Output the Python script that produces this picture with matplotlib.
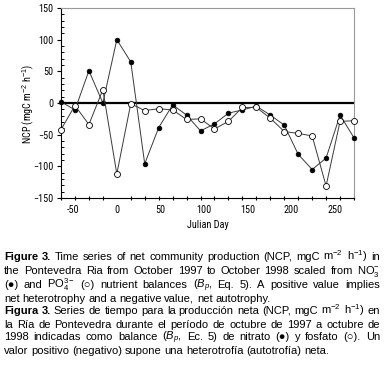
import matplotlib
matplotlib.use("Agg")
import matplotlib.pyplot as plt
from matplotlib import font_manager
from matplotlib.ticker import MultipleLocator

# ---------------- data ----------------
days = [-64, -48, -32, -16, 0, 16, 32, 48, 64, 80, 96, 112, 128, 144,
        160, 176, 192, 208, 224, 240, 256, 272]
ncp_nitrate = [2, -11, 51, 0, 100, 65, -96, -39, -3, -19, -44, -33, -16, -11,
               -5, -19, -35, -81, -105, -87, -19, -55]
ncp_phosphate = [-42, -4, -34, 21, -112, -1, -12, -9, -11, -26, -25, -41, -29, -7,
                 -7, -24, -45, -48, -52, -131, -29, -28]
xtick_values = [-50, 0, 50, 100, 150, 200, 250]
xtick_labels = ["-50", "0", "50", "100", "150", "200", "250"]

caption_lines = [
    ("Figure 3. Time series of net community production (NCP, mgC m$^{-2}$ h$^{-1}$) in", 2, True),
    ("the Pontevedra Ria from October 1997 to October 1998 scaled from NO$_3^{-}$", 0, True),
    ("(\u25cf) and PO$_4^{3-}$ (\u25cb) nutrient balances ($B_p$, Eq. 5). A positive value implies", 0, True),
    ("net heterotrophy and a negative value, net autotrophy.", 0, False),
    ("Figura 3. Series de tiempo para la producción neta (NCP, mgC m$^{-2}$ h$^{-1}$) en", 2, True),
    ("la Ría de Pontevedra durante el período de octubre de 1997 a octubre de", 0, True),
    ("1998 indicadas como balance ($B_p$, Ec. 5) de nitrato (\u25cf) y fosfato (\u25cb). Un", 0, True),
    ("valor positivo (negativo) supone una heterotrofía (autotrofía) neta.", 0, False),
]
caption_baselines = [260, 274, 288, 301.5, 314.5, 327.5, 340.5, 353.5]

# ---------------- fonts ----------------
names = {f.name for f in font_manager.fontManager.ttflist}
axfont = "Roboto Condensed" if "Roboto Condensed" in names else "Liberation Sans"
capfont = "Liberation Sans"
plt.rcParams["font.family"] = axfont
plt.rcParams["mathtext.fontset"] = "custom"
plt.rcParams["mathtext.rm"] = capfont
plt.rcParams["mathtext.it"] = capfont + ":italic"
plt.rcParams["mathtext.bf"] = capfont + ":bold"

W = H = 384
fig = plt.figure(figsize=(3.84, 3.84), dpi=100)
ax = fig.add_axes([61 / W, 1 - 198 / H, 293 / W, 190 / H])

ax.axhline(0, color="black", lw=1.6, zorder=2)
ax.plot(days, ncp_nitrate, "-", color="#3a3a3a", lw=0.7, marker="o", ms=3.4,
        mfc="black", mec="black", mew=0.5, clip_on=False, zorder=3)
ax.plot(days, ncp_phosphate, "-", color="#3a3a3a", lw=0.7, marker="o", ms=4.3,
        mfc="white", mec="black", mew=0.6, clip_on=False, zorder=4)

ax.set_xlim(-64, 272)
ax.set_ylim(-150, 150)
ax.yaxis.set_major_locator(MultipleLocator(50))
ax.yaxis.set_minor_locator(MultipleLocator(10))
ax.set_xticks(xtick_values)
ax.set_xticklabels(xtick_labels)
ax.set_xticks(days, minor=True)

ax.tick_params(axis="x", which="major", length=0, pad=5, labelsize=7.3)
ax.tick_params(axis="x", which="minor", direction="inout", length=2.4, width=0.8)
ax.tick_params(axis="y", which="major", direction="out", length=2.8, width=0.8,
               pad=2.5, labelsize=7.3)
ax.tick_params(axis="y", which="minor", direction="in", length=1.8, width=0.7)

for s in ("top", "right"):
    ax.spines[s].set_color("#9a9a9a")
    ax.spines[s].set_linewidth(0.8)
for s in ("left", "bottom"):
    ax.spines[s].set_color("black")
    ax.spines[s].set_linewidth(0.8)

fig.text(28 / W, 1 - 104 / H, "NCP (mgC m$^{-2}$ h$^{-1}$)", rotation=90,
         ha="center", va="center", fontsize=7.3)
fig.text(207.5 / W, 1 - 225 / H, "Julian Day", ha="center", va="center",
         fontsize=7.3)

# ---------------- caption (justified) ----------------
renderer = fig.canvas.get_renderer()
X0, X1 = 4.0, 380.0


def make_words(line, nbold, fs):
    objs = []
    for k, w in enumerate(line.split(" ")):
        t = fig.text(0, 0, w, fontsize=fs, ha="left", va="baseline",
                     family=capfont,
                     fontweight="bold" if k < nbold else "normal")
        objs.append(t)
    return objs


def widths(objs):
    return [t.get_window_extent(renderer).width for t in objs]


FS = 8.0
space_nat = 0.2 * FS * 100 / 72
ratio = 0.0
for line, nb, just in caption_lines:
    objs = make_words(line, nb, FS)
    ws = widths(objs)
    nat = sum(ws) + space_nat * (len(ws) - 1)
    ratio = max(ratio, nat / (X1 - X0))
    for t in objs:
        t.remove()
fs = FS / ratio * 0.995 if ratio > 1 else FS
space = 0.25 * fs * 100 / 72

for (line, nb, just), yb in zip(caption_lines, caption_baselines):
    objs = make_words(line, nb, fs)
    ws = widths(objs)
    if just and len(ws) > 1:
        gap = (X1 - X0 - sum(ws)) / (len(ws) - 1)
    else:
        gap = space
    x = X0
    for t, w in zip(objs, ws):
        t.set_position((x / W, 1 - yb / H))
        x += w + gap

fig.savefig("out.png", dpi=100)
